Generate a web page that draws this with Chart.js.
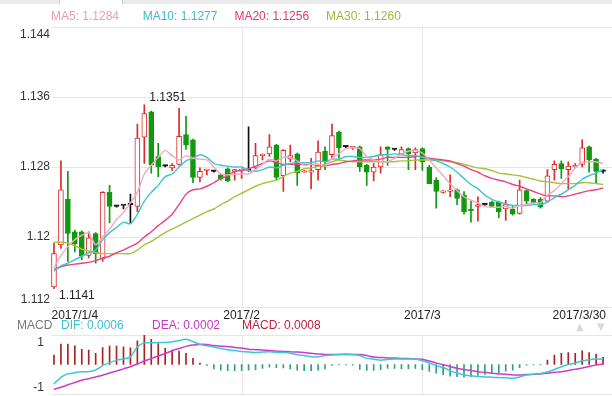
<!DOCTYPE html>
<html><head><meta charset="utf-8">
<script src="https://cdn.jsdelivr.net/npm/chart.js@4/dist/chart.umd.min.js"></script>
<style>
html,body{margin:0;padding:0;background:#fff;}
#wrap{position:relative;width:612px;height:396px;overflow:hidden;background:#fff;}
#topband{position:absolute;left:0;top:0;width:612px;height:4px;background:#ebebeb;}
#tab{position:absolute;left:59px;top:0;width:62px;height:5px;background:#fff;border-left:1px solid #d4d4d4;border-right:1px solid #d4d4d4;}
#c1{position:absolute;left:0;top:0;}
#c2{position:absolute;left:0;top:334px;}
</style></head><body>
<div id="wrap">
<canvas id="c1" width="612" height="334"></canvas>
<canvas id="c2" width="612" height="62"></canvas>
<div id="topband"></div><div id="tab"></div>
</div>
<script>
// ---------------- data ----------------
const open = [1.1143,1.1191,1.1243,1.1206,1.1206,1.1179,1.1204,1.1175,1.1251,1.1235,
 1.1236,1.1237,1.1235,1.1314,1.1343,1.1292,1.1281,1.1279,1.1283,1.1317,
 1.1311,1.1268,1.1276,1.1275,1.1271,1.1278,1.1275,1.1276,1.1276,1.1279,
 1.1293,1.1295,1.1305,1.1270,1.1289,1.1295,1.1274,1.1274,1.1277,1.1298,
 1.1294,1.1320,1.1303,1.1302,1.1303,1.1282,1.1274,1.1280,1.1303,1.1300,
 1.1295,1.1301,1.1296,1.1301,1.1280,1.1265,1.1251,1.1252,1.1254,1.1248,
 1.1232,1.1235,1.1237,1.1240,1.1240,1.1232,1.1232,1.1227,1.1253,1.1243,
 1.1243,1.1241,1.1277,1.1284,1.1277,1.1280,1.1283,1.1303,1.1289,1.1275];
const high = [1.1193,1.1287,1.1275,1.1208,1.1207,1.1206,1.1205,1.1252,1.1259,1.1236,
 1.1236,1.1249,1.1329,1.1351,1.1344,1.1307,1.1282,1.1284,1.1347,1.1338,
 1.1312,1.1279,1.1277,1.1276,1.1272,1.1279,1.1277,1.1278,1.1326,1.1307,
 1.1295,1.1317,1.1306,1.1300,1.1305,1.1296,1.1276,1.1290,1.1310,1.1303,
 1.1329,1.1321,1.1304,1.1303,1.1304,1.1283,1.1284,1.1303,1.1303,1.1301,
 1.1303,1.1302,1.1302,1.1302,1.1282,1.1268,1.1253,1.1271,1.1255,1.1252,
 1.1241,1.1246,1.1238,1.1241,1.1241,1.1242,1.1235,1.1265,1.1254,1.1244,
 1.1245,1.1277,1.1287,1.1287,1.1286,1.1284,1.1311,1.1304,1.1290,1.1277];
const low = [1.1141,1.1187,1.1172,1.1183,1.1174,1.1176,1.1170,1.1172,1.1216,1.1234,
 1.1232,1.1216,1.1229,1.1284,1.1273,1.1269,1.1280,1.1276,1.1282,1.1300,
 1.1262,1.1263,1.1271,1.1274,1.1265,1.1263,1.1265,1.1267,1.1275,1.1277,
 1.1288,1.1292,1.1265,1.1252,1.1286,1.1259,1.1274,1.1255,1.1265,1.1277,
 1.1290,1.1290,1.1302,1.1300,1.1275,1.1259,1.1264,1.1273,1.1282,1.1299,
 1.1294,1.1277,1.1277,1.1276,1.1261,1.1233,1.1250,1.1246,1.1237,1.1226,
 1.1217,1.1218,1.1236,1.1234,1.1222,1.1219,1.1225,1.1226,1.1238,1.1239,
 1.1233,1.1240,1.1265,1.1267,1.1255,1.1279,1.1280,1.1274,1.1261,1.1273];
const close = [1.1181,1.1254,1.1204,1.1192,1.1178,1.1199,1.1181,1.1251,1.1235,1.1235,
 1.1236,1.1237,1.1313,1.1341,1.1282,1.1280,1.1281,1.1282,1.1315,1.1305,
 1.1268,1.1275,1.1277,1.1275,1.1266,1.1264,1.1277,1.1277,1.1276,1.1293,
 1.1294,1.1303,1.1268,1.1299,1.1293,1.1273,1.1275,1.1276,1.1297,1.1286,
 1.1316,1.1302,1.1303,1.1303,1.1280,1.1274,1.1280,1.1294,1.1300,1.1300,
 1.1300,1.1295,1.1300,1.1286,1.1261,1.1252,1.1252,1.1254,1.1244,1.1229,
 1.1230,1.1237,1.1237,1.1235,1.1229,1.1237,1.1226,1.1254,1.1241,1.1239,
 1.1234,1.1270,1.1283,1.1278,1.1281,1.1282,1.1302,1.1288,1.1275,1.1275];

const ma5 = [1.1165,1.1179,1.1189,1.1197,1.1202,1.1205,1.1191,1.1200,1.1209,1.1220,
 1.1228,1.1239,1.1251,1.1272,1.1282,1.1291,1.1299,1.1293,1.1288,1.1293,
 1.1290,1.1289,1.1288,1.1280,1.1272,1.1271,1.1272,1.1272,1.1272,1.1277,
 1.1283,1.1289,1.1287,1.1291,1.1291,1.1287,1.1282,1.1283,1.1283,1.1281,
 1.1290,1.1295,1.1301,1.1302,1.1301,1.1292,1.1288,1.1286,1.1286,1.1290,
 1.1295,1.1298,1.1299,1.1296,1.1288,1.1279,1.1270,1.1261,1.1253,1.1246,
 1.1242,1.1239,1.1235,1.1234,1.1234,1.1235,1.1233,1.1236,1.1237,1.1239,
 1.1239,1.1248,1.1253,1.1261,1.1269,1.1279,1.1285,1.1286,1.1286,1.1284];
const ma10 = [1.1161,1.1167,1.1170,1.1174,1.1178,1.1182,1.1185,1.1197,1.1205,1.1211,
 1.1217,1.1215,1.1226,1.1241,1.1251,1.1259,1.1269,1.1272,1.1280,1.1287,
 1.1290,1.1294,1.1291,1.1284,1.1282,1.1281,1.1280,1.1280,1.1276,1.1275,
 1.1277,1.1280,1.1279,1.1282,1.1284,1.1285,1.1285,1.1285,1.1287,1.1286,
 1.1289,1.1289,1.1292,1.1292,1.1291,1.1291,1.1292,1.1294,1.1294,1.1295,
 1.1294,1.1293,1.1293,1.1291,1.1289,1.1287,1.1284,1.1280,1.1274,1.1267,
 1.1260,1.1255,1.1248,1.1243,1.1240,1.1238,1.1236,1.1236,1.1236,1.1237,
 1.1237,1.1240,1.1245,1.1249,1.1254,1.1259,1.1266,1.1270,1.1273,1.1277];
const ma20 = [1.1163,1.1166,1.1168,1.1169,1.1170,1.1171,1.1173,1.1176,1.1178,1.1182,
 1.1185,1.1189,1.1193,1.1200,1.1206,1.1213,1.1219,1.1226,1.1237,1.1249,
 1.1254,1.1255,1.1258,1.1262,1.1267,1.1270,1.1275,1.1276,1.1278,1.1281,
 1.1284,1.1287,1.1285,1.1283,1.1283,1.1283,1.1283,1.1283,1.1282,1.1281,
 1.1283,1.1284,1.1286,1.1287,1.1288,1.1288,1.1288,1.1289,1.1291,1.1291,
 1.1291,1.1291,1.1292,1.1292,1.1290,1.1289,1.1288,1.1287,1.1284,1.1281,
 1.1277,1.1274,1.1270,1.1267,1.1265,1.1263,1.1260,1.1258,1.1255,1.1252,
 1.1249,1.1247,1.1247,1.1246,1.1247,1.1249,1.1251,1.1253,1.1254,1.1256];
const ma30 = [1.1194,1.1194,1.1193,1.1190,1.1186,1.1184,1.1182,1.1181,1.1181,1.1181,
 1.1181,1.1181,1.1185,1.1191,1.1195,1.1200,1.1205,1.1209,1.1213,1.1217,
 1.1221,1.1225,1.1229,1.1232,1.1237,1.1241,1.1246,1.1250,1.1254,1.1258,
 1.1261,1.1263,1.1265,1.1269,1.1273,1.1275,1.1278,1.1279,1.1281,1.1283,
 1.1286,1.1288,1.1287,1.1286,1.1286,1.1286,1.1286,1.1286,1.1286,1.1286,
 1.1287,1.1287,1.1288,1.1288,1.1288,1.1288,1.1287,1.1286,1.1285,1.1283,
 1.1281,1.1279,1.1278,1.1276,1.1273,1.1272,1.1271,1.1270,1.1268,1.1266,
 1.1264,1.1263,1.1262,1.1261,1.1261,1.1261,1.1262,1.1262,1.1261,1.1260];

const dif = [-0.89,-0.59,-0.43,-0.37,-0.33,-0.33,-0.25,-0.05,0.08,0.20,
 0.25,0.35,0.81,0.99,0.99,1.01,1.01,1.04,1.10,1.15,
 1.05,0.92,0.86,0.80,0.73,0.67,0.64,0.60,0.57,0.55,
 0.57,0.58,0.56,0.55,0.52,0.45,0.41,0.36,0.35,0.41,
 0.43,0.46,0.48,0.46,0.41,0.28,0.24,0.20,0.23,0.25,
 0.25,0.25,0.25,0.17,0.07,-0.05,-0.14,-0.28,-0.39,-0.48,
 -0.52,-0.55,-0.57,-0.58,-0.60,-0.61,-0.63,-0.57,-0.48,-0.44,
 -0.41,-0.34,-0.23,-0.10,0.00,0.07,0.16,0.22,0.25,0.24];
const dea = [-1.13,-1.04,-0.93,-0.82,-0.72,-0.65,-0.57,-0.49,-0.39,-0.30,
 -0.20,-0.10,0.02,0.16,0.27,0.39,0.50,0.63,0.73,0.83,
 0.89,0.92,0.91,0.87,0.84,0.82,0.78,0.75,0.70,0.68,
 0.66,0.64,0.61,0.60,0.58,0.57,0.55,0.51,0.48,0.46,
 0.46,0.46,0.46,0.46,0.46,0.41,0.34,0.32,0.30,0.30,
 0.28,0.27,0.25,0.24,0.16,0.07,-0.01,-0.09,-0.17,-0.23,
 -0.27,-0.33,-0.36,-0.40,-0.43,-0.45,-0.48,-0.48,-0.46,-0.45,
 -0.43,-0.40,-0.36,-0.33,-0.27,-0.22,-0.16,-0.09,-0.02,0.02];
const hist = [0.43,0.93,0.93,0.85,0.69,0.66,0.51,0.78,0.84,0.84,
 0.81,0.76,1.08,1.34,1.15,0.96,0.74,0.66,0.61,0.51,
 0.28,0.06,-0.04,-0.20,-0.26,-0.28,-0.28,-0.28,-0.26,-0.24,
 -0.18,-0.12,-0.14,-0.16,-0.20,-0.26,-0.28,-0.28,-0.26,-0.20,
 -0.04,-0.02,-0.02,-0.03,-0.22,-0.27,-0.27,-0.24,-0.18,-0.18,
 -0.20,-0.20,-0.18,-0.24,-0.32,-0.40,-0.47,-0.53,-0.56,-0.58,
 -0.56,-0.50,-0.45,-0.41,-0.38,-0.30,-0.26,-0.15,-0.03,-0.02,
 -0.02,0.20,0.43,0.51,0.54,0.51,0.63,0.55,0.48,0.33];

const categories = close.map((_, i) => i);           // trading-day index
const xTickIndex = [3, 27, 53, 79];
const xTickText = ['2017/1/4', '2017/2', '2017/3', '2017/3/30'];
const xGridIndex = [27, 53];
const yTicks = [1.144, 1.136, 1.128, 1.12, 1.112];
const macdTicks = [1, -1];
const maNames = ['MA5', 'MA10', 'MA20', 'MA30'];
const macdLegendText = ['DIF: 0.0006', 'DEA: 0.0002', 'MACD: 0.0008'];

// ---------------- styles ----------------
const UP = '#dd2a2a', DOWN = '#10990f', DOJI = '#111111';
const maColors = ['#f4a7c3', '#3fc3d2', '#e6457c', '#a8c23c'];
const maTextColors = ['#ee9ab9', '#3dbacd', '#dc3a70', '#9dbb3a'];
const FONT = '12px "Liberation Sans", Arial, sans-serif';
const GRID = '#e6e6e6';

const candleColor = close.map((c, i) => c > open[i] ? UP : (c < open[i] ? DOWN : DOJI));
const bodyFill = close.map((c, i) => c > open[i] ? '#ffffff' : candleColor[i]);

const mainDecor = {
  id: 'mainDecor',
  beforeDatasetsDraw(chart) {
    const {ctx, chartArea: a, scales: {x, y}} = chart;
    ctx.save();
    ctx.strokeStyle = GRID; ctx.lineWidth = 1;
    yTicks.forEach(v => {
      const py = Math.round(y.getPixelForValue(v)) + 0.5;
      ctx.beginPath(); ctx.moveTo(52, py); ctx.lineTo(612, py); ctx.stroke();
    });
    xGridIndex.forEach(i => {
      const px = Math.round(x.getPixelForValue(i)) + 0.5;
      ctx.beginPath(); ctx.moveTo(px, a.top); ctx.lineTo(px, a.bottom); ctx.stroke();
    });
    ctx.restore();
  },
  afterDraw(chart) {
    const {ctx, scales: {x, y}} = chart;
    ctx.save();
    ctx.font = FONT; ctx.textBaseline = 'middle';
    // y labels
    ctx.fillStyle = '#333'; ctx.textAlign = 'right';
    yTicks.forEach(v => {
      let py = y.getPixelForValue(v);
      if (v === y.max) py += 8; else if (v === y.min) py -= 7;
      ctx.fillText(String(v), 50, py);
    });
    // x labels
    ctx.fillStyle = '#222'; ctx.textAlign = 'left';
    xTickIndex.forEach((idx, k) => {
      const t = xTickText[k];
      const w = ctx.measureText(t).width;
      let left = x.getPixelForValue(idx) - w / 2;
      left = Math.max(51, Math.min(left, 606 - w));
      ctx.fillText(t, left, 316);
    });
    // high / low labels
    let hi = 0, lo = 0;
    high.forEach((v, i) => { if (v > high[hi]) hi = i; });
    low.forEach((v, i) => { if (v < low[lo]) lo = i; });
    ctx.fillStyle = '#222';
    ctx.fillText(high[hi].toFixed(4), x.getPixelForValue(hi) + 5, y.getPixelForValue(high[hi]) - 7);
    ctx.fillText(low[lo].toFixed(4), x.getPixelForValue(lo) + 5, y.getPixelForValue(low[lo]) + 7);
    // MA legend
    const maLast = [ma5, ma10, ma20, ma30].map(a => a[a.length - 1]);
    maNames.forEach((n, k) => {
      ctx.fillStyle = maTextColors[k];
      ctx.fillText(n + ': ' + maLast[k].toFixed(4), 51 + k * 91.7, 17);
    });
    // MACD legend
    ctx.fillStyle = '#777'; ctx.fillText('MACD', 17, 326);
    const mc = ['#3fbfd6', '#c535c5', '#c21d3f'];
    const mx = [61, 152, 242];
    macdLegendText.forEach((t, k) => { ctx.fillStyle = mc[k]; ctx.fillText(t, mx[k], 326); });
    ctx.font = '10px "DejaVu Sans", sans-serif'; ctx.fillStyle = '#d8d8d8';
    ctx.fillText('\u25B2', 576, 327); ctx.fillText('\u25BC', 597, 327);
    ctx.restore();
  }
};

const macdDecor = {
  id: 'macdDecor',
  beforeDatasetsDraw(chart) {
    const {ctx, chartArea: a, scales: {x}} = chart;
    ctx.save();
    ctx.strokeStyle = GRID; ctx.lineWidth = 1;
    [a.top, a.bottom].forEach(v => {
      const py = Math.round(v) + 0.5;
      ctx.beginPath(); ctx.moveTo(52, py); ctx.lineTo(612, py); ctx.stroke();
    });
    xGridIndex.forEach(i => {
      const px = Math.round(x.getPixelForValue(i)) + 0.5;
      ctx.beginPath(); ctx.moveTo(px, a.top); ctx.lineTo(px, a.bottom); ctx.stroke();
    });
    ctx.restore();
  },
  afterDraw(chart) {
    const {ctx, scales: {y}} = chart;
    ctx.save();
    ctx.font = FONT; ctx.textBaseline = 'middle'; ctx.textAlign = 'right'; ctx.fillStyle = '#333';
    macdTicks.forEach(v => ctx.fillText(String(v), 44, y.getPixelForValue(v) + (v < 0 ? 1.5 : 0.5)));
    ctx.restore();
  }
};

const baseOpts = {
  responsive: false, animation: false, devicePixelRatio: 1,
  plugins: {legend: {display: false}, tooltip: {enabled: false}},
  events: []
};

new Chart(document.getElementById('c1'), {
  type: 'bar',
  data: {
    labels: categories,
    datasets: [
      {type: 'line', data: ma5, borderColor: maColors[0], borderWidth: 1.4, pointRadius: 0, tension: 0.2},
      {type: 'line', data: ma10, borderColor: maColors[1], borderWidth: 1.4, pointRadius: 0, tension: 0.2},
      {type: 'line', data: ma20, borderColor: maColors[2], borderWidth: 1.4, pointRadius: 0, tension: 0.2},
      {type: 'line', data: ma30, borderColor: maColors[3], borderWidth: 1.4, pointRadius: 0, tension: 0.2},
      {type: 'bar', data: open.map((o, i) => [o, close[i]]), backgroundColor: bodyFill, borderColor: candleColor,
       borderWidth: 1, borderSkipped: false, barThickness: 5, minBarLength: 1.5, grouped: false},
      {type: 'bar', data: low.map((l, i) => [l, high[i]]), backgroundColor: candleColor, borderWidth: 0,
       barThickness: 1, grouped: false}
    ]
  },
  options: Object.assign({}, baseOpts, {
    layout: {padding: {left: 50.5, right: 5.5, top: 27, bottom: 27}},
    scales: {
      x: {display: false, offset: true},
      y: {display: false, min: 1.112, max: 1.144}
    }
  }),
  plugins: [mainDecor]
});

new Chart(document.getElementById('c2'), {
  type: 'bar',
  data: {
    labels: categories,
    datasets: [
      {type: 'line', data: dif, borderColor: '#3cc7d8', borderWidth: 1.5, pointRadius: 0, tension: 0.2},
      {type: 'line', data: dea, borderColor: '#cc3ccc', borderWidth: 1.5, pointRadius: 0, tension: 0.2},
      {type: 'bar', data: hist, backgroundColor: hist.map(v => v >= 0 ? '#a92222' : '#2f9f7c'),
       borderWidth: 0, barThickness: 1, grouped: false}
    ]
  },
  options: Object.assign({}, baseOpts, {
    layout: {padding: {left: 50.5, right: 5.5, top: 1, bottom: 2}},
    scales: {
      x: {display: false, offset: true},
      y: {display: false, min: -1.35, max: 1.35}
    }
  }),
  plugins: [macdDecor]
});
</script>
</body></html>
